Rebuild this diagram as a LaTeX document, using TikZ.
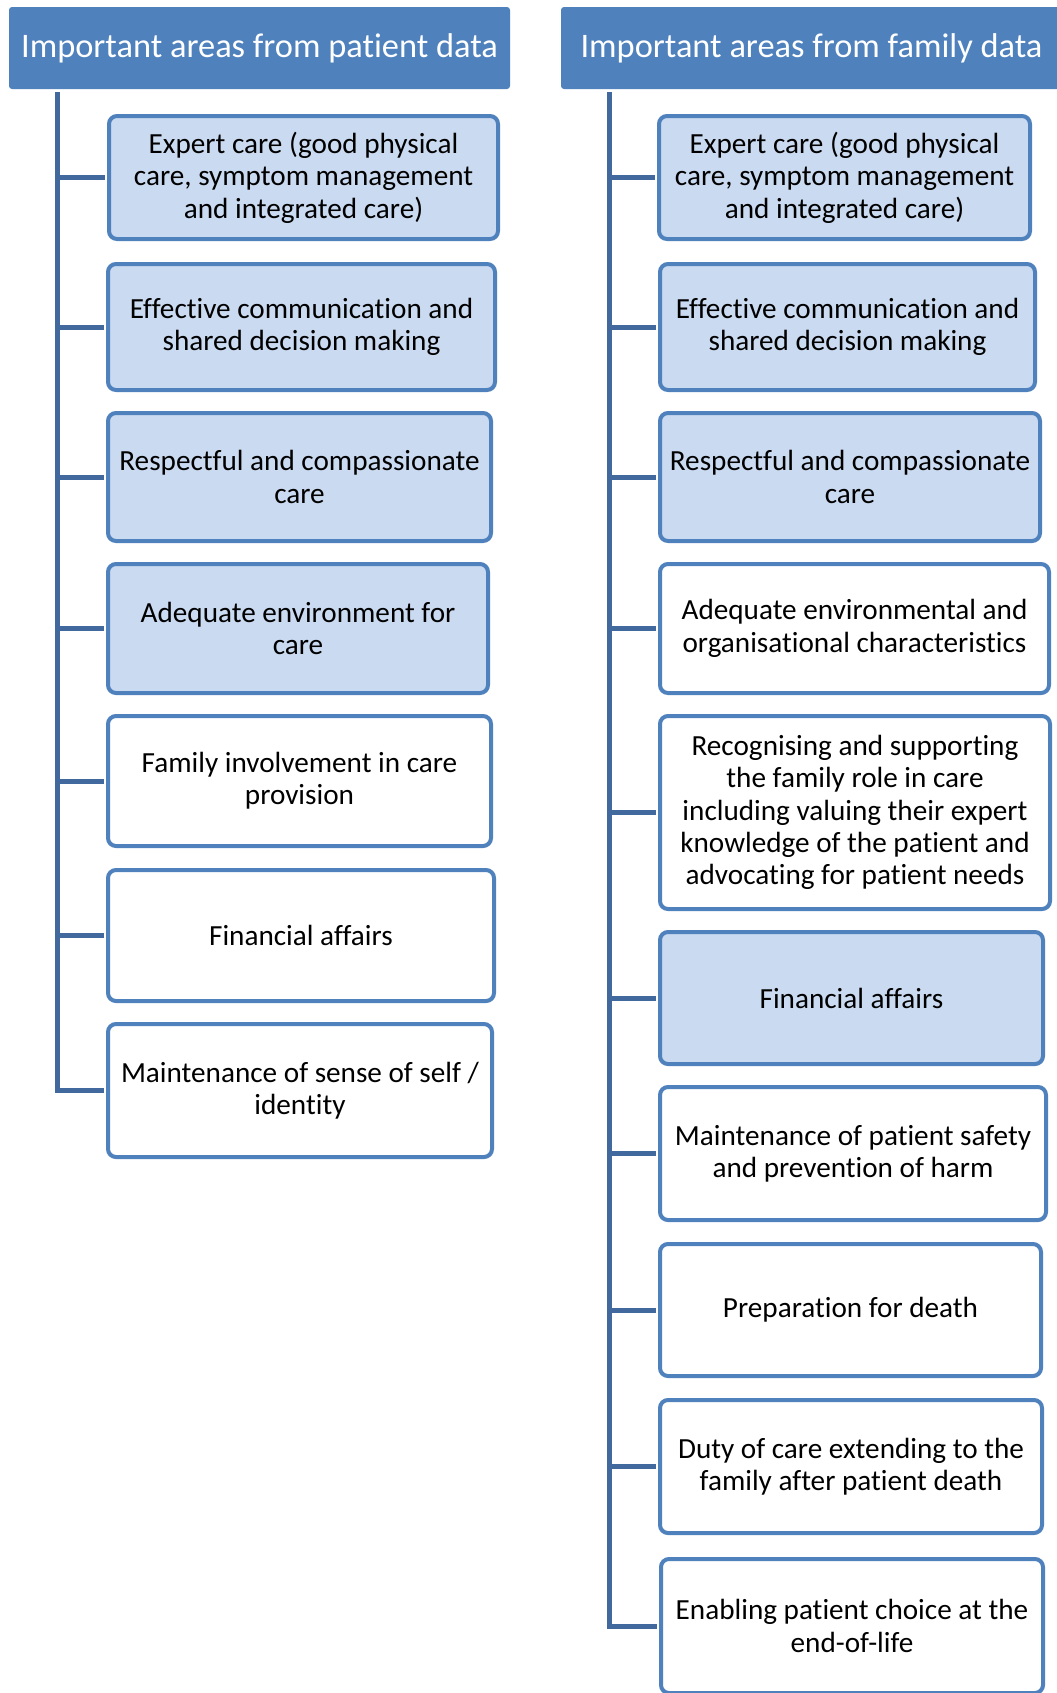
\documentclass[tikz,border=0pt]{standalone}
\usepackage{fontspec}
\setmainfont[RawFeature={-liga;-clig}]{Carlito}

\definecolor{headblue}{HTML}{4F81BD}
\definecolor{treeblue}{HTML}{41699E}
\definecolor{paleblue}{HTML}{CADAF0}

\tikzset{
    header/.style={fill=headblue, text=white, rounded corners=1.5pt, inner sep=0pt,
        font=\fontsize{17.2}{20}\selectfont},
    area/.style={draw=headblue, line width=2pt, rounded corners=4pt, fill=white,
        align=center, inner sep=0pt, font=\fontsize{14.6}{16.2}\selectfont},
    keyarea/.style={area, fill=paleblue},
    trunk/.style={draw=treeblue, line width=2.5pt, shorten >=1pt},
}

\begin{document}
\begin{tikzpicture}[x=0.5pt, y=-0.5pt]
    \useasboundingbox (0,0) rectangle (1056,1693);

    % Patient column
    \node[header, minimum width=250.5pt, minimum height=41pt] (lhead) at (259.5,48) {Important areas from patient data};
    \coordinate (ltop) at (57,92);

    \node[keyarea, minimum width=194.5pt, minimum height=61.5pt] (l1) at (303.5,177.5) {Expert care (good physical\\care, symptom management\\and integrated care)};
    \node[keyarea, minimum width=193.5pt, minimum height=63pt] (l2) at (301.5,327) {Effective communication and\\shared decision making};
    \node[keyarea, minimum width=191.5pt, minimum height=64pt] (l3) at (299.5,477) {Respectful and compassionate\\care};
    \node[keyarea, minimum width=190pt, minimum height=64.5pt] (l4) at (298,628.5) {Adequate environment for\\care};
    \node[area, minimum width=191.5pt, minimum height=65pt] (l5) at (299.5,781) {Family involvement in care\\provision};
    \node[area, minimum width=193pt, minimum height=65.5pt] (l6) at (301,935.5) {Financial affairs};
    \node[area, minimum width=192pt, minimum height=66.5pt] (l7) at (300,1090.5) {Maintenance of sense of self /\\identity};

    \foreach \n in {1,...,6}
        \draw[trunk] (ltop |- l\n.west) -- (l\n.west);
    \draw[trunk] (ltop) |- (l7.west);

    % Family column
    \node[header, minimum width=250.5pt, minimum height=41pt] (rhead) at (811.5,48) {Important areas from family data};
    \coordinate (rtop) at (609,92);

    \node[keyarea, minimum width=185.5pt, minimum height=61.5pt] (r1) at (844.5,177.5) {Expert care (good physical\\care, symptom management\\and integrated care)};
    \node[keyarea, minimum width=187.5pt, minimum height=63pt] (r2) at (847.5,327) {Effective communication and\\shared decision making};
    \node[keyarea, minimum width=190pt, minimum height=64pt] (r3) at (850,477) {Respectful and compassionate\\care};
    \node[area, minimum width=194.5pt, minimum height=64.5pt] (r4) at (854.5,628.5) {Adequate environmental and\\organisational characteristics};
    \node[area, minimum width=195pt, minimum height=96.5pt] (r5) at (855,812.5) {Recognising and supporting\\the family role in care\\including valuing their expert\\knowledge of the patient and\\advocating for patient needs};
    \node[keyarea, minimum width=191.5pt, minimum height=66pt] (r6) at (851.5,998) {Financial affairs};
    \node[area, minimum width=193pt, minimum height=66.5pt] (r7) at (853,1153.5) {Maintenance of patient safety\\and prevention of harm};
    \node[area, minimum width=190.5pt, minimum height=66pt] (r8) at (850.5,1310) {Preparation for death};
    \node[area, minimum width=191pt, minimum height=66.5pt] (r9) at (851,1466.5) {Duty of care extending to the\\family after patient death};
    \node[area, minimum width=191pt, minimum height=67pt] (r10) at (852,1626) {Enabling patient choice at the\\end-of-life};

    \foreach \n in {1,...,9}
        \draw[trunk] (rtop |- r\n.west) -- (r\n.west);
    \draw[trunk] (rtop) |- (r10.west);
\end{tikzpicture}
\end{document}
